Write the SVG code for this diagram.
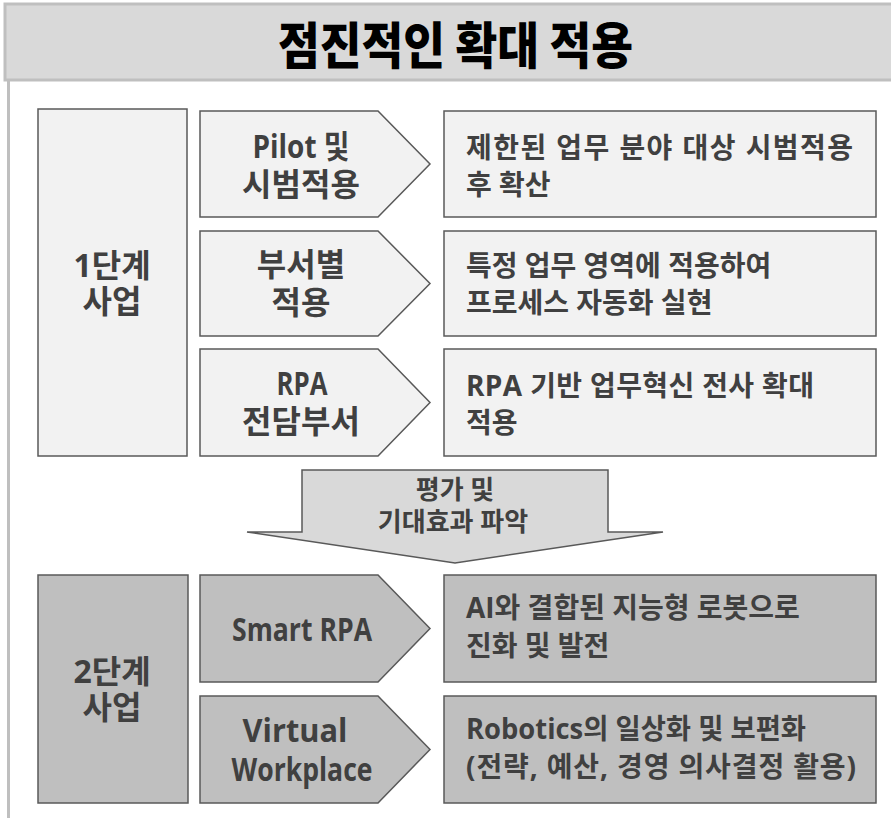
<svg xmlns="http://www.w3.org/2000/svg" width="891" height="826" viewBox="0 0 891 826">
<style>
.t{font-family:"Open Sans","Noto Sans CJK KR",sans-serif;font-weight:700;fill:#404040}
.mid{text-anchor:middle}
.s1{fill:#f2f2f2;stroke:#595959;stroke-width:1.5}
.s2{fill:#bfbfbf;stroke:#595959;stroke-width:1.5}
.big{font-size:32px}
.body{font-size:28px}
</style>
<rect width="891" height="826" fill="#ffffff"/>
<g id="frame">
<line x1="8.5" y1="80" x2="8.5" y2="818" stroke="#bfbfbf" stroke-width="3"/>
<rect x="5" y="4" width="895" height="76" fill="#d9d9d9" stroke="#bfbfbf" stroke-width="3"/>
<text x="455.5" y="64" text-anchor="middle" font-family="Noto Sans CJK KR, sans-serif" font-weight="900" font-size="50" fill="#000000" textLength="355" lengthAdjust="spacingAndGlyphs">점진적인 확대 적용</text>
</g>
<g id="stage1">
<rect class="s1" x="38" y="109" width="149" height="347"/>
<text class="t big mid" x="112" y="277">1단계</text>
<text class="t big mid" x="112" y="313">사업</text>
</g>
<g id="pilot">
<polygon class="s1" points="200,111 378,111 430,164 378,217 200,217"/>
<text class="t big mid" x="301" y="158" textLength="97" lengthAdjust="spacingAndGlyphs">Pilot 및</text>
<text class="t big mid" x="301" y="196">시범적용</text>
</g>
<g id="dept">
<polygon class="s1" points="200,231 378,231 430,283.5 378,336 200,336"/>
<text class="t big mid" x="301" y="276">부서별</text>
<text class="t big mid" x="301" y="314">적용</text>
</g>
<g id="rpa">
<polygon class="s1" points="200,349 378,349 430,402.5 378,456 200,456"/>
<text class="t big mid" x="302" y="395" textLength="51" lengthAdjust="spacingAndGlyphs">RPA</text>
<text class="t big mid" x="301" y="433">전담부서</text>
</g>
<g id="desc1">
<rect class="s1" x="444" y="111" width="432" height="106"/>
<text class="t body" x="466" y="158" textLength="387">제한된 업무 분야 대상 시범적용</text>
<text class="t body" x="466" y="195">후 확산</text>
</g>
<g id="desc2">
<rect class="s1" x="444" y="231" width="432" height="105"/>
<text class="t body" x="466" y="276">특정 업무 영역에 적용하여</text>
<text class="t body" x="466" y="313">프로세스 자동화 실현</text>
</g>
<g id="desc3">
<rect class="s1" x="444" y="349" width="432" height="107"/>
<text class="t body" x="466" y="396" textLength="348">RPA 기반 업무혁신 전사 확대</text>
<text class="t body" x="466" y="433">적용</text>
</g>
<g id="evaluate">
<polygon points="302,470 608,470 608,532 663,532 455,563 247,532 302,532" fill="#d9d9d9" stroke="#595959" stroke-width="1.5"/>
<text class="t mid" font-size="26" x="455" y="499">평가 및</text>
<text class="t mid" font-size="26" x="453" y="531">기대효과 파악</text>
</g>
<g id="stage2">
<rect class="s2" x="38" y="575" width="150" height="228"/>
<text class="t big mid" x="112" y="683">2단계</text>
<text class="t big mid" x="112" y="719">사업</text>
</g>
<g id="smart">
<polygon class="s2" points="200,575 378,575 430,628.5 378,682 200,682"/>
<text class="t big mid" x="302" y="641" textLength="140" lengthAdjust="spacingAndGlyphs">Smart RPA</text>
</g>
<g id="virtual">
<polygon class="s2" points="200,696 378,696 430,749.5 378,803 200,803"/>
<text class="t big mid" x="295" y="742" textLength="105" lengthAdjust="spacingAndGlyphs">Virtual</text>
<text class="t big mid" x="302" y="781" textLength="141" lengthAdjust="spacingAndGlyphs">Workplace</text>
</g>
<g id="desc4">
<rect class="s2" x="444" y="575" width="432" height="107"/>
<text class="t body" x="466" y="618">AI와 결합된 지능형 로봇으로</text>
<text class="t body" x="466" y="656">진화 및 발전</text>
</g>
<g id="desc5">
<rect class="s2" x="444" y="696" width="432" height="107"/>
<text class="t body" x="466" y="739" textLength="340" lengthAdjust="spacingAndGlyphs">Robotics의 일상화 및 보편화</text>
<text class="t body" x="466" y="777" textLength="390">(전략, 예산, 경영 의사결정 활용)</text>
</g>
<g id="connectors"></g>
</svg>
